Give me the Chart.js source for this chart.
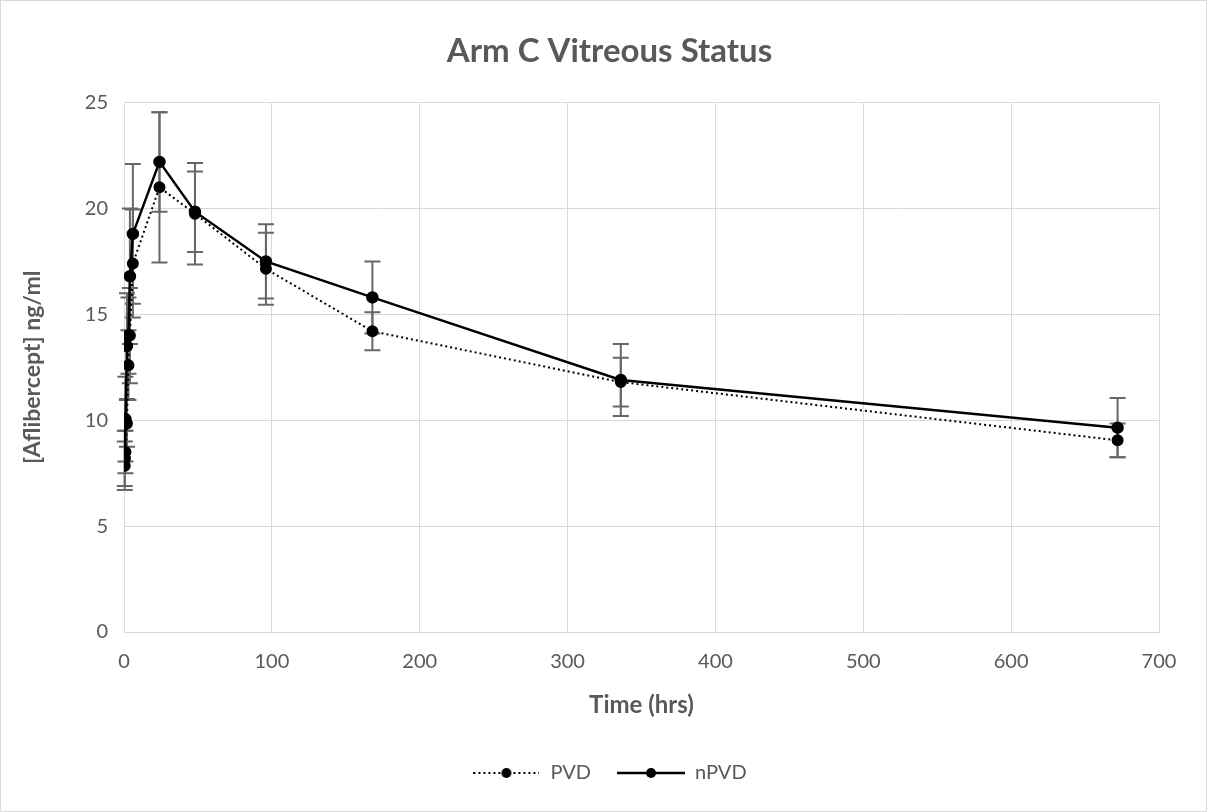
<!DOCTYPE html>
<html>
<head>
<meta charset="utf-8">
<script src="https://cdn.jsdelivr.net/npm/chart.js@4.4.0/dist/chart.umd.min.js"></script>
<style>
html, body { margin: 0; padding: 0; background: #fff; }
#wrap { width: 1207px; height: 812px; }
</style>
</head>
<body>
<div id="wrap"><canvas id="chart" width="1207" height="812"></canvas></div>
<script>
// sampling times (hrs) and mean concentration +/- error per group
const hours = [0.5, 1, 2, 3, 4, 6, 24, 48, 96, 168, 336, 672];
const pvdMean = [7.85, 8.5, 9.85, 12.6, 14.0, 17.4, 21.0, 19.75, 17.15, 14.2, 11.8, 9.05];
const pvdErr = [1.15, 1.0, 1.1, 1.65, 2.25, 2.55, 3.55, 2.4, 1.7, 0.9, 1.15, 0.8];
const npvdMean = [8.2, 10.05, 13.5, 14.0, 16.8, 18.8, 22.2, 19.85, 17.5, 15.8, 11.9, 9.65];
const npvdErr = [1.3, 2.0, 2.5, 1.8, 3.2, 3.3, 2.35, 1.9, 1.75, 1.7, 1.7, 1.4];

const xTicks = [0, 100, 200, 300, 400, 500, 600, 700];
const yTicks = [0, 5, 10, 15, 20, 25];

const textColor = "#595959";
const gridColor = "#d9d9d9";
const fontFamily = "Lato, 'Open Sans', sans-serif";

function toPoints(means) {
	return hours.map((h, i) => ({ x: h, y: means[i] }));
}

// little line + marker image used as legend sample
function legendSample(dash, width) {
	const c = document.createElement("canvas");
	c.width = width;
	c.height = 12;
	const g = c.getContext("2d");
	g.strokeStyle = "#000";
	g.lineWidth = dash.length ? 2 : 2.5;
	g.setLineDash(dash);
	g.beginPath();
	g.moveTo(0, 6);
	g.lineTo(width, 6);
	g.stroke();
	g.setLineDash([]);
	g.fillStyle = "#000";
	g.beginPath();
	g.arc(width / 2, 6, 5, 0, Math.PI * 2);
	g.fill();
	return c;
}

const errorBars = {
	id: "errorBars",
	beforeDatasetsDraw(chart) {
		const { ctx, scales: { x, y } } = chart;
		ctx.save();
		ctx.strokeStyle = "#676767";
		ctx.lineWidth = 2;
		chart.data.datasets.forEach(ds => {
			ds.data.forEach((p, i) => {
				const e = ds.errors[i];
				const px = x.getPixelForValue(p.x);
				const top = y.getPixelForValue(p.y + e);
				const bot = y.getPixelForValue(p.y - e);
				ctx.beginPath();
				ctx.moveTo(px, top);
				ctx.lineTo(px, bot);
				ctx.moveTo(px - 8, top);
				ctx.lineTo(px + 8, top);
				ctx.moveTo(px - 8, bot);
				ctx.lineTo(px + 8, bot);
				ctx.stroke();
			});
		});
		ctx.restore();
	}
};

const frame = {
	id: "frame",
	afterDraw(chart) {
		const ctx = chart.ctx;
		ctx.save();
		ctx.strokeStyle = gridColor;
		ctx.lineWidth = 1;
		ctx.strokeRect(0.5, 0.5, chart.width - 1, chart.height - 1);
		ctx.restore();
	}
};

const samples = [legendSample([2, 3], 66), legendSample([], 68)];

new Chart(document.getElementById("chart"), {
	type: "line",
	data: {
		datasets: [
			{
				label: "PVD",
				data: toPoints(pvdMean),
				errors: pvdErr,
				borderColor: "#000",
				backgroundColor: "#000",
				borderWidth: 2,
				borderDash: [2, 3],
				pointRadius: 5,
				pointHoverRadius: 5,
				tension: 0
			},
			{
				label: "nPVD",
				data: toPoints(npvdMean),
				errors: npvdErr,
				borderColor: "#000",
				backgroundColor: "#000",
				borderWidth: 2.5,
				pointRadius: 5,
				pointHoverRadius: 5,
				tension: 0
			}
		]
	},
	options: {
		responsive: false,
		animation: false,
		layout: { padding: { left: 12, right: 0, top: 0, bottom: 19 } },
		plugins: {
			title: {
				display: true,
				text: "Arm C Vitreous Status",
				color: textColor,
				font: { family: fontFamily, size: 33, weight: "bold" },
				padding: { top: 32, bottom: 31 }
			},
			legend: {
				position: "bottom",
				labels: {
					color: textColor,
					font: { family: fontFamily, size: 20 },
					usePointStyle: true,
					pointStyleWidth: 68,
					boxHeight: 12,
					padding: 26,
					generateLabels: chart => chart.data.datasets.map((ds, i) => ({
						text: ds.label,
						pointStyle: samples[i],
						fontColor: textColor,
						datasetIndex: i,
						lineWidth: 0
					}))
				}
			},
			tooltip: { enabled: false }
		},
		scales: {
			x: {
				type: "linear",
				min: 0,
				max: 700,
				afterBuildTicks: s => { s.ticks = xTicks.map(v => ({ value: v })); },
				afterFit: s => { s.height = 105; },
				grid: { color: gridColor, lineWidth: 1, drawTicks: false },
				border: { color: gridColor },
				ticks: { color: textColor, font: { family: fontFamily, size: 20 }, padding: 18 },
				title: {
					display: true,
					text: "Time (hrs)",
					color: textColor,
					font: { family: fontFamily, size: 24, weight: "bold" },
					padding: { top: 10, bottom: 17.5 }
				}
			},
			y: {
				min: 0,
				max: 25,
				afterBuildTicks: s => { s.ticks = yTicks.map(v => ({ value: v })); },
				afterFit: s => { s.width = 112; },
				grid: { color: gridColor, lineWidth: 1, drawTicks: false },
				border: { color: gridColor },
				ticks: { color: textColor, font: { family: fontFamily, size: 20 }, padding: 16 },
				title: {
					display: true,
					text: "[Aflibercept] ng/ml",
					color: textColor,
					font: { family: fontFamily, size: 23, weight: "bold" },
					padding: { top: 7, bottom: 0 }
				}
			},
			// empty right-hand gutter so the plot stops short of the frame
			gutter: {
				type: "linear",
				position: "right",
				display: true,
				grid: { display: false },
				border: { display: false },
				ticks: { display: false },
				afterFit: s => { s.width = 48; }
			}
		}
	},
	plugins: [errorBars, frame]
});
</script>
</body>
</html>
